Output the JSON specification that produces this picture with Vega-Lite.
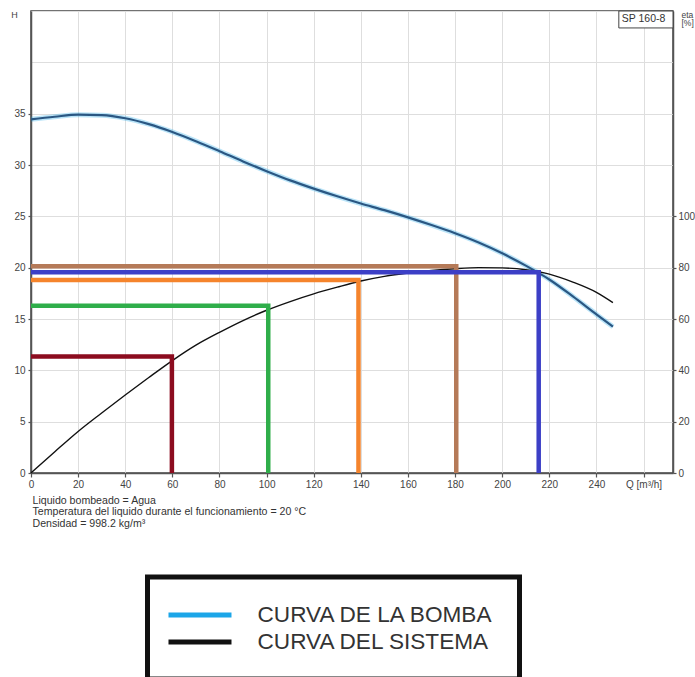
{
  "$schema": "https://vega.github.io/schema/vega-lite/v6.json",
  "width": 642,
  "height": 462,
  "autosize": {"type": "none"},
  "padding": {"left": 31, "top": 11, "right": 22, "bottom": 204},
  "background": "white",
  "config": {
    "view": {"stroke": "#444", "strokeWidth": 1.5},
    "font": "Liberation Sans",
    "legend": {"strokeWidth": 5},
    "axis": {
      "labelFont": "Liberation Sans",
      "labelFontSize": 10,
      "labelColor": "#444",
      "domainColor": "#555",
      "domainWidth": 1.5,
      "tickColor": "#555",
      "tickWidth": 1.2,
      "gridColor": "#dedede",
      "gridWidth": 1,
      "titleFont": "Liberation Sans",
      "titleFontWeight": "normal",
      "titleColor": "#444",
      "titleFontSize": 9
    }
  },
  "datasets": {
    "pump": [
      {"Q": 0, "H": 34.45}, {"Q": 10, "H": 34.7}, {"Q": 20, "H": 34.9}, {"Q": 30, "H": 34.85},
      {"Q": 40, "H": 34.55}, {"Q": 50, "H": 33.98}, {"Q": 60, "H": 33.22}, {"Q": 70, "H": 32.32},
      {"Q": 80, "H": 31.35}, {"Q": 90, "H": 30.35}, {"Q": 100, "H": 29.4}, {"Q": 110, "H": 28.5},
      {"Q": 120, "H": 27.7}, {"Q": 130, "H": 26.95}, {"Q": 140, "H": 26.25}, {"Q": 150, "H": 25.6},
      {"Q": 160, "H": 24.9}, {"Q": 170, "H": 24.15}, {"Q": 180, "H": 23.35}, {"Q": 190, "H": 22.45},
      {"Q": 200, "H": 21.4}, {"Q": 210, "H": 20.2}, {"Q": 220, "H": 18.85}, {"Q": 230, "H": 17.2},
      {"Q": 240, "H": 15.45}, {"Q": 247, "H": 14.25}
    ],
    "eff": [
      {"Q": 0, "eta": 0}, {"Q": 10, "eta": 8.2}, {"Q": 20, "eta": 16.2}, {"Q": 30, "eta": 23.4},
      {"Q": 40, "eta": 30.4}, {"Q": 50, "eta": 37.2}, {"Q": 60, "eta": 43.8}, {"Q": 70, "eta": 49.8},
      {"Q": 80, "eta": 54.8}, {"Q": 90, "eta": 59.4}, {"Q": 100, "eta": 63.4}, {"Q": 110, "eta": 66.8},
      {"Q": 120, "eta": 69.8}, {"Q": 130, "eta": 72.4}, {"Q": 140, "eta": 74.8}, {"Q": 150, "eta": 76.6},
      {"Q": 160, "eta": 77.9}, {"Q": 170, "eta": 78.9}, {"Q": 180, "eta": 79.6}, {"Q": 190, "eta": 80.0},
      {"Q": 200, "eta": 79.9}, {"Q": 210, "eta": 79.2}, {"Q": 220, "eta": 77.5}, {"Q": 230, "eta": 74.4},
      {"Q": 240, "eta": 70.4}, {"Q": 247, "eta": 66.4}
    ],
    "refs": [
      {"name": "marron", "Q": 0, "H": 20.15}, {"name": "marron", "Q": 180.5, "H": 20.15}, {"name": "marron", "Q": 180.5, "H": 0},
      {"name": "azul", "Q": 0, "H": 19.55}, {"name": "azul", "Q": 215.5, "H": 19.55}, {"name": "azul", "Q": 215.5, "H": 0},
      {"name": "naranja", "Q": 0, "H": 18.8}, {"name": "naranja", "Q": 139, "H": 18.8}, {"name": "naranja", "Q": 139, "H": 0},
      {"name": "verde", "Q": 0, "H": 16.3}, {"name": "verde", "Q": 100.7, "H": 16.3}, {"name": "verde", "Q": 100.7, "H": 0},
      {"name": "rojo", "Q": 0, "H": 11.35}, {"name": "rojo", "Q": 59.8, "H": 11.35}, {"name": "rojo", "Q": 59.8, "H": 0}
    ]
  },
  "layer": [
    {
      "data": {"name": "pump"},
      "layer": [
        {
          "mark": {"type": "line", "strokeWidth": 5, "strokeOpacity": 0.3, "interpolate": "monotone"},
          "encoding": {
            "x": {
              "field": "Q", "type": "quantitative",
              "scale": {"domain": [0, 272.5], "nice": false, "zero": true},
              "axis": {
                "values": [0, 20, 40, 60, 80, 100, 120, 140, 160, 180, 200, 220, 240, 260],
                "labelExpr": "datum.value == 260 ? 'Q [m³/h]' : datum.label",
                "grid": true,
                "tickSize": 4,
                "labelPadding": 2,
                "labelFlush": false,
                "title": ["Liquido bombeado = Agua", "Temperatura del liquido durante el funcionamiento = 20 °C", "Densidad = 998.2 kg/m³"],
                "titleFontSize": 10.6,
                "titleColor": "#333",
                "titleLineHeight": 11.6,
                "titleAlign": "left",
                "titleAnchor": "start",
                "titleBaseline": "top",
                "titleX": 1,
                "titleY": 22
              }
            },
            "y": {
              "field": "H", "type": "quantitative",
              "scale": {"domain": [0, 45], "nice": false},
              "axis": {
                "values": [0, 5, 10, 15, 20, 25, 30, 35, 40, 45],
                "labelExpr": "datum.value > 35 ? '' : datum.label",
                "tickOpacity": {"condition": {"test": "datum.value > 35", "value": 0}, "value": 1},
                "grid": true,
                "tickSize": 3,
                "labelPadding": 3,
                "title": "H",
                "titleAngle": 0,
                "titleX": -17,
                "titleY": 3,
                "titleAlign": "center",
                "titleBaseline": "middle",
                "labelFlush": false
              }
            },
            "color": {
              "datum": "CURVA DE LA BOMBA",
              "type": "nominal",
              "scale": {"domain": ["CURVA DE LA BOMBA", "CURVA DEL SISTEMA"], "range": ["#1ca6e8", "#111111"]},
              "legend": {
                "title": null,
                "orient": "none",
                "legendX": 116.5,
                "legendY": 566,
                "direction": "vertical",
                "symbolType": "M-1.62,0H4.38",
                "symbolSize": 441,
                "symbolStrokeWidth": 5,
                "symbolOpacity": 1,
                "labelFontSize": 22.6,
                "labelFont": "Liberation Sans",
                "labelColor": "#333",
                "labelLimit": 0,
                "labelOffset": 59,
                "padding": 25,
                "strokeColor": "#111",
                "fillColor": "white",
                "rowPadding": 2
              }
            }
          }
        },
        {
          "mark": {"type": "line", "strokeWidth": 2.2, "color": "#2a5783", "interpolate": "monotone"},
          "encoding": {
            "x": {"field": "Q", "type": "quantitative", "scale": {"domain": [0, 272.5], "nice": false}},
            "y": {"field": "H", "type": "quantitative", "scale": {"domain": [0, 45], "nice": false}}
          }
        }
      ]
    },
    {
      "data": {"name": "eff"},
      "mark": {"type": "line", "strokeWidth": 1.4, "interpolate": "monotone"},
      "encoding": {
        "x": {"field": "Q", "type": "quantitative", "scale": {"domain": [0, 272.5], "nice": false}},
        "y": {
          "field": "eta", "type": "quantitative",
          "scale": {"domain": [0, 180], "nice": false},
          "axis": {
            "orient": "right",
            "values": [0, 20, 40, 60, 80, 100],
            "grid": false,
            "tickSize": 3,
            "labelPadding": 2,
            "title": ["eta", "[%]"],
            "titleAngle": 0,
            "titleX": 8,
            "titleY": -1,
            "titleAlign": "left",
            "titleBaseline": "top",
            "titleFontSize": 8.5,
            "titleLineHeight": 8.5,
            "labelFlush": false
          }
        },
        "color": {
          "datum": "CURVA DEL SISTEMA",
          "type": "nominal",
          "scale": {"domain": ["CURVA DE LA BOMBA", "CURVA DEL SISTEMA"], "range": ["#1ca6e8", "#111111"]}
        }
      }
    },
    {
      "layer": [
        {
          "data": {"name": "refs"},
          "mark": {"type": "line", "strokeWidth": 4.5, "strokeJoin": "miter", "strokeCap": "butt"},
          "encoding": {
            "x": {"field": "Q", "type": "quantitative", "scale": {"domain": [0, 272.5], "nice": false}},
            "y": {"field": "H", "type": "quantitative", "scale": {"domain": [0, 45], "nice": false}, "axis": null},
            "detail": {"field": "name", "type": "nominal"},
            "order": {"value": null},
            "stroke": {
              "field": "name", "type": "nominal",
              "scale": {"domain": ["marron", "azul", "naranja", "verde", "rojo"], "range": ["#b57a58", "#3c3fc6", "#f5842c", "#2fae4a", "#8c0c1f"]},
              "legend": null
            }
          }
        },
        {
          "data": {"values": [{"model": "SP 160-8"}]},
          "mark": {"type": "rect", "fill": "white", "stroke": "#444", "strokeWidth": 1},
          "encoding": {
            "x": {"datum": 249.5, "type": "quantitative", "scale": {"domain": [0, 272.5], "nice": false}},
            "x2": {"datum": 272.5},
            "y": {"datum": 43.35, "type": "quantitative", "scale": {"domain": [0, 45], "nice": false}, "axis": null},
            "y2": {"datum": 45}
          }
        },
        {
          "data": {"values": [{"model": "SP 160-8"}]},
          "mark": {"type": "text", "fontSize": 10.5, "font": "Liberation Sans", "color": "#333", "align": "center", "baseline": "middle"},
          "encoding": {
            "x": {"datum": 260, "type": "quantitative", "scale": {"domain": [0, 272.5], "nice": false}},
            "y": {"datum": 44.2, "type": "quantitative", "scale": {"domain": [0, 45], "nice": false}, "axis": null},
            "text": {"field": "model", "type": "nominal"}
          }
        }
      ]
    }
  ],
  "resolve": {"scale": {"y": "independent"}}
}
